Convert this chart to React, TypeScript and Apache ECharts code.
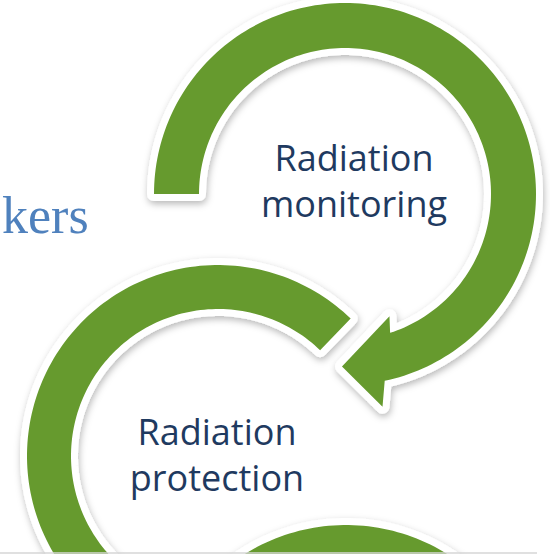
import React, { useEffect, useRef } from "react";
import * as echarts from "echarts";

// Diagram content
const labelTexts = ["Radiation\nmonitoring", "Radiation\nprotection"];
const labelCenterX = [354, 217];
const labelCenterY = [180, 454];
const labelLineHeight = [46, 46];
const sideText = "kers";

// Ring geometry of the three circular arrows
const ringCenterX = [345, 218, 346];
const ringCenterY = [194, 456, 716];
const innerRadius = [146, 147, 146];
const outerRadius = [191, 191, 191];
const arcStartDeg = [180, 314, 190];
const arcEndDeg = [438, 100, 350];
const hasHead = [true, false, false];

const GREEN = "#669A2E";
const NAVY = "#1F3A60";
const BLUE = "#4F81BD";

function pt(cx: number, cy: number, r: number, deg: number): number[] {
  const a = (deg * Math.PI) / 180;
  return [cx + r * Math.cos(a), cy + r * Math.sin(a)];
}

function arcPts(cx: number, cy: number, r: number, a0: number, a1: number): number[][] {
  const pts: number[][] = [];
  const n = Math.max(2, Math.ceil(Math.abs(a1 - a0) / 1.5));
  for (let i = 0; i <= n; i++) pts.push(pt(cx, cy, r, a0 + ((a1 - a0) * i) / n));
  return pts;
}

function arrowPoints(i: number): number[][] {
  const cx = ringCenterX[i];
  const cy = ringCenterY[i];
  const r = innerRadius[i];
  const R = outerRadius[i];
  const a0 = arcStartDeg[i];
  const a1 = arcEndDeg[i];
  if (hasHead[i]) {
    const outer = arcPts(cx, cy, R, a0, a1);
    const head = [
      pt(cx, cy, R + 25, a1 + 2),
      pt(cx, cy, (r + R) / 2 + 4, a1 + 13),
      pt(cx, cy, r - 16, a1 - 8),
    ];
    const inner = arcPts(cx, cy, r, a1 - 6, a0);
    return [...outer, ...head, ...inner];
  }
  const outer = arcPts(cx, cy, R, a0, a1);
  const inner = arcPts(cx, cy, r, a1, a0);
  return [...outer, ...inner];
}

export default function App() {
  const ref = useRef<HTMLDivElement>(null);
  useEffect(() => {
    document.body.style.margin = "0";
    if (!ref.current) return;
    const chart = echarts.init(ref.current, null, { renderer: "svg" });
    const elements: any[] = [];
    [2, 1, 0].forEach((i, k) => {
      const pts = arrowPoints(i);
      elements.push({
        type: "polygon",
        z: 10 + k * 2,
        shape: { points: pts },
        style: {
          fill: "#ffffff",
          stroke: "#ffffff",
          lineWidth: 14,
          lineJoin: "round",
          shadowBlur: 7,
          shadowOffsetX: 1,
          shadowOffsetY: 3,
          shadowColor: "rgba(0,0,0,0.28)",
        },
      });
      elements.push({
        type: "polygon",
        z: 11 + k * 2,
        shape: { points: pts },
        style: { fill: GREEN },
      });
    });
    labelTexts.forEach((t, i) => {
      elements.push({
        type: "text",
        z: 30,
        x: labelCenterX[i],
        y: labelCenterY[i],
        style: {
          text: t,
          fill: NAVY,
          font: "36px 'Open Sans'",
          lineHeight: labelLineHeight[i],
          align: "center",
          verticalAlign: "middle",
        },
      });
    });
    elements.push({
      type: "text",
      z: 30,
      x: 2,
      y: 230 - 15,
      style: {
        text: sideText,
        fill: BLUE,
        font: "52px 'Liberation Serif'",
        align: "left",
        verticalAlign: "middle",
      },
    });
    elements.push({
      type: "line",
      z: 40,
      shape: { x1: 0, y1: 553, x2: 537, y2: 553 },
      style: { stroke: "#d6d6d6", lineWidth: 1.5 },
    });
    chart.setOption({
      animation: false,
      backgroundColor: "#ffffff",
      graphic: { elements },
    });
    return () => chart.dispose();
  }, []);
  return (
    <div
      ref={ref}
      style={{ position: "absolute", left: 0, top: 0, width: 550, height: 554 }}
    />
  );
}
